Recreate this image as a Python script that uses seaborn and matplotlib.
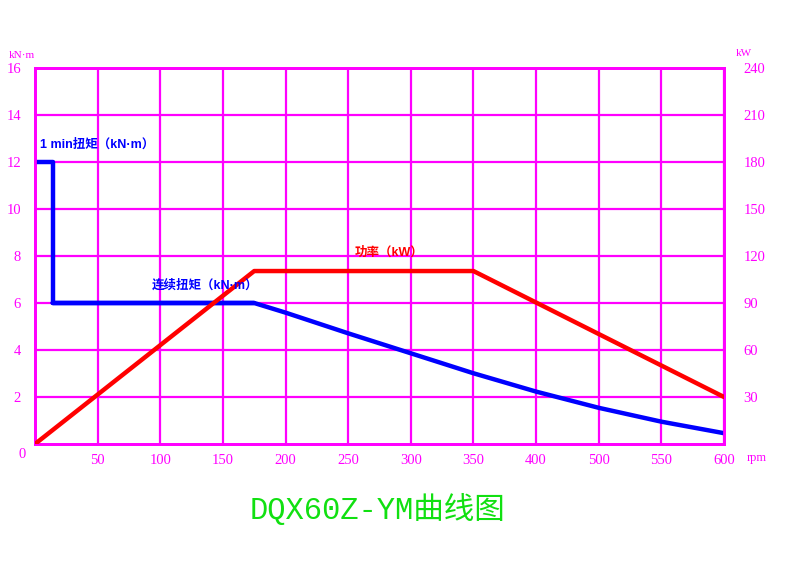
import matplotlib
matplotlib.use("Agg")
import matplotlib.pyplot as plt
import seaborn as sns
import pandas as pd

sns.set_style("white")
plt.rcParams['font.family'] = ['Liberation Serif', 'Noto Sans CJK SC', 'DejaVu Sans']

# ---- data (x in axis positions; tick labels skip 450 as in the original) ----
x_ticks = [0, 50, 100, 150, 200, 250, 300, 350, 400, 450, 500, 550]
x_labels = ["", "50", "100", "150", "200", "250", "300", "350", "400", "500", "550", "600"]
torque_ticks = [2, 4, 6, 8, 10, 12, 14, 16]
power_ticks = [30, 60, 90, 120, 150, 180, 210, 240]

min1_x = [0, 14, 14, 175]
min1_y = [12, 12, 6, 6]

cont_x = [14, 175, 200, 250, 300, 350, 400, 450, 500, 550]
cont_y = [6.0, 6.0, 5.59, 4.71, 3.86, 3.01, 2.23, 1.54, 0.95, 0.46]

power_x = [0, 175, 350, 550]
power_y = [0, 110.4, 110.4, 30]

MAG = '#FF00FF'
BLUE = '#0000FF'
RED = '#FF0000'
GREEN = '#11E011'
ANN_FONT = ['Liberation Sans', 'Noto Sans CJK SC', 'DejaVu Sans']

fig = plt.figure(figsize=(8, 5.66), dpi=100)
ax = fig.add_axes([35/800, 1-444/566, (724-35)/800, (444-68)/566])
ax2 = ax.twinx()

ax.set_xlim(0, 550)
ax.set_ylim(0, 16)
ax2.set_ylim(0, 240)
for xv in x_ticks[1:]:
    ax.axvline(xv, color=MAG, lw=1.6, zorder=1)
for yv in torque_ticks:
    ax.axhline(yv, color=MAG, lw=1.6, zorder=1)

df_min = pd.DataFrame({'x': min1_x, 'y': min1_y})
df_cont = pd.DataFrame({'x': cont_x, 'y': cont_y})
df_pow = pd.DataFrame({'x': power_x, 'y': power_y})

sns.lineplot(data=df_cont, x='x', y='y', ax=ax, color=BLUE, lw=3.2, sort=False, estimator=None, zorder=3)
sns.lineplot(data=df_min, x='x', y='y', ax=ax, color=BLUE, lw=3.2, sort=False, estimator=None, zorder=3)
sns.lineplot(data=df_pow, x='x', y='y', ax=ax2, color=RED, lw=3.2, sort=False, estimator=None, zorder=3)
ax2.set_ylim(0, 240)
ax.set_xlim(0, 550)
ax.set_ylim(0, 16)

for a in (ax, ax2):
    for s in a.spines.values():
        s.set_color(MAG)
        s.set_linewidth(2)
    a.set_xlabel("")
    a.set_ylabel("")

ax.set_xticks(x_ticks)
ax.set_xticklabels(x_labels)
ax.set_yticks(torque_ticks)
ax.set_yticklabels([str(v) for v in torque_ticks])
ax2.set_yticks(power_ticks)
ax2.set_yticklabels([str(v) for v in power_ticks])

ax.tick_params(axis='x', length=0, pad=7, labelcolor=MAG, labelsize=10.5)
ax.tick_params(axis='y', length=0, pad=10, labelcolor=MAG, labelsize=10.5)
ax2.tick_params(axis='y', length=0, pad=14, labelcolor=MAG, labelsize=10.5)

# unit labels
fig.text(22/800, 1-455/566, "0", color=MAG, fontsize=10.5, ha='center', va='center')
fig.text(22/800, 1-55/566, "kN·m", color=MAG, fontsize=8, ha='center', va='center')
fig.text(744/800, 1-53/566, "kW", color=MAG, fontsize=8, ha='center', va='center')
fig.text(757/800, 1-458/566, "rpm", color=MAG, fontsize=9, ha='center', va='center')

# annotations (drawn on the top axes so they sit above the lines)
ax2.text(4, 12.75, "1 min扭矩（kN·m）", transform=ax.transData, color=BLUE, fontsize=9,
         fontweight='bold', ha='left', va='center', family=ANN_FONT, zorder=5)
ax2.text(93, 6.75, "连续扭矩（kN·m）", transform=ax.transData, color=BLUE, fontsize=9,
         fontweight='bold', ha='left', va='center', family=ANN_FONT, zorder=5)
ax2.text(255, 8.15, "功率（kW）", transform=ax.transData, color=RED, fontsize=9,
         fontweight='bold', ha='left', va='center', family=ANN_FONT, zorder=5)

# title
fig.text(378/800, 1-510/566, "DQX60Z-YM曲线图", color=GREEN, fontsize=22, ha='center', va='center',
         family=['Liberation Mono', 'Noto Sans CJK SC', 'DejaVu Sans'])

fig.savefig("out.png", dpi=100)
